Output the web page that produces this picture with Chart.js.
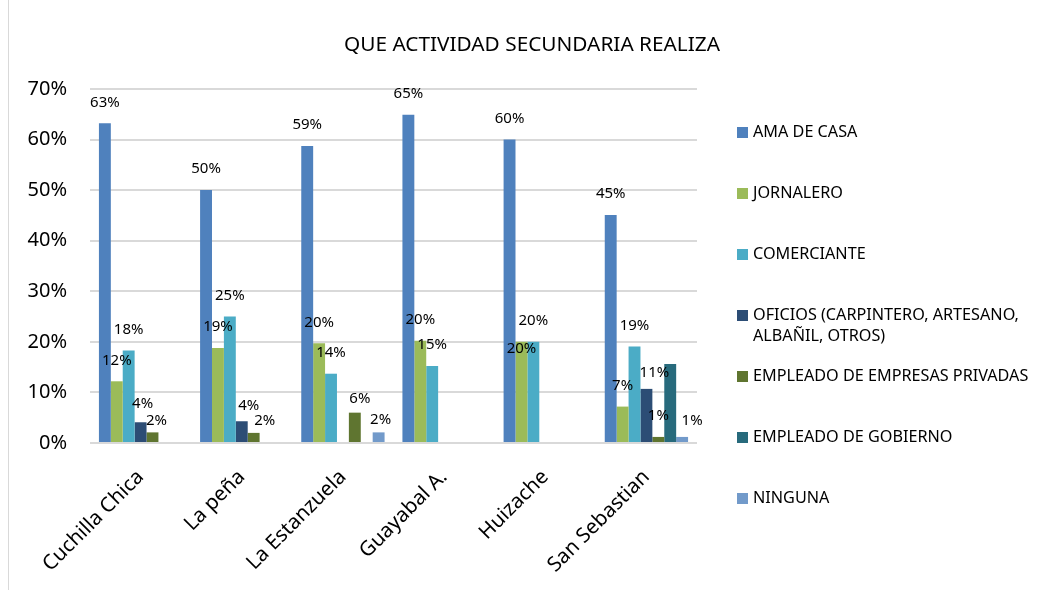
<!DOCTYPE html>
<html>
<head>
<meta charset="utf-8">
<script src="https://cdn.jsdelivr.net/npm/chart.js@4.4.1/dist/chart.umd.min.js"></script>
<style>
  html, body { margin: 0; padding: 0; background: #ffffff; }
  canvas { display: block; }
</style>
</head>
<body>
<canvas id="c" width="1043" height="590"></canvas>
<script>
// ---- data (percent) ----
const categories = ['Cuchilla Chica', 'La peña', 'La Estanzuela', 'Guayabal A.', 'Huizache', 'San Sebastian'];
const seriesNames = ['AMA DE CASA', 'JORNALERO', 'COMERCIANTE', ['OFICIOS (CARPINTERO, ARTESANO,', 'ALBAÑIL, OTROS)'], 'EMPLEADO DE EMPRESAS PRIVADAS', 'EMPLEADO DE GOBIERNO', 'NINGUNA'];
const amaDeCasa        = [63.2, 50.0, 58.7, 64.9, 60.0, 45.1];
const jornalero        = [12.2, 18.8, 19.7, 20.2, 20.0, 7.2];
const comerciante      = [18.3, 25.0, 13.7, 15.2, 20.0, 19.1];
const oficios          = [4.1, 4.3, null, null, null, 10.7];
const empleadoPrivado  = [2.1, 2.0, 6.0, null, null, 1.2];
const empleadoGobierno = [null, null, null, null, null, 15.6];
const ninguna          = [null, null, 2.1, null, null, 1.2];
const yTickValues      = [0, 10, 20, 30, 40, 50, 60, 70];

const seriesColors = ['#4F81BD', '#9BBB59', '#4BACC6', '#2C4D75', '#5F7530', '#276A7C', '#729ACA'];
const seriesValues = [amaDeCasa, jornalero, comerciante, oficios, empleadoPrivado, empleadoGobierno, ninguna];
const showLabels   = [true, true, true, true, true, false, true];

// manual nudges of individual value labels (dataset index, category index) -> [dx, dy]
const labelNudges = {
  '3,0': [2, 2],  '4,0': [4, 9],
  '3,1': [7, 5],  '4,1': [11, 9],
  '4,2': [5, 7],  '6,2': [2, 8],
  '1,4': [0, 28],
  '3,5': [8, 5],  '6,5': [10, 5]
};

const FONT = "'Noto Sans', 'DejaVu Sans', sans-serif";

const datasets = seriesValues.map((vals, i) => ({
  label: Array.isArray(seriesNames[i]) ? seriesNames[i].join(' ') : seriesNames[i],
  legendLines: Array.isArray(seriesNames[i]) ? seriesNames[i] : [seriesNames[i]],
  data: vals,
  backgroundColor: seriesColors[i],
  borderWidth: 0,
  showValueLabels: showLabels[i],
  categoryPercentage: 7 / 8.5,
  barPercentage: 1.0
}));

// border line on the left of the chart frame
const framePlugin = {
  id: 'frame',
  beforeDraw(chart) {
    const ctx = chart.ctx;
    ctx.save();
    ctx.fillStyle = '#ffffff';
    ctx.fillRect(0, 0, chart.width, chart.height);
    ctx.strokeStyle = '#d9d9d9';
    ctx.lineWidth = 1;
    ctx.beginPath();
    ctx.moveTo(8.5, 0);
    ctx.lineTo(8.5, chart.height);
    ctx.stroke();
    ctx.restore();
  }
};

// value labels above bars
const valueLabelPlugin = {
  id: 'valueLabels',
  afterDatasetsDraw(chart) {
    const ctx = chart.ctx;
    ctx.save();
    ctx.font = '15px ' + FONT;
    ctx.fillStyle = '#000000';
    ctx.textAlign = 'center';
    ctx.textBaseline = 'middle';
    chart.data.datasets.forEach((ds, di) => {
      if (!ds.showValueLabels) return;
      const meta = chart.getDatasetMeta(di);
      meta.data.forEach((el, i) => {
        const v = ds.data[i];
        if (v === null || v === undefined) return;
        const n = labelNudges[di + ',' + i] || [0, 0];
        ctx.fillText(Math.round(v) + '%', el.x + n[0], el.y - 21 + n[1]);
      });
    });
    ctx.restore();
  }
};

// legend drawn at right, evenly spaced like the original
const legendPlugin = {
  id: 'sideLegend',
  afterDraw(chart) {
    const ctx = chart.ctx;
    const boxX = 737, textX = 753, firstY = 132.5, pitch = 61, box = 11, lineGap = 21;
    ctx.save();
    ctx.font = '16.2px ' + FONT;
    ctx.textAlign = 'left';
    ctx.textBaseline = 'middle';
    chart.data.datasets.forEach((ds, i) => {
      const y = firstY + i * pitch;
      ctx.fillStyle = ds.backgroundColor;
      ctx.fillRect(boxX, Math.round(y - box / 2), box, box);
      ctx.fillStyle = '#000000';
      ds.legendLines.forEach((line, li) => {
        ctx.fillText(line, textX, y + li * lineGap);
      });
    });
    ctx.restore();
  }
};

new Chart(document.getElementById('c'), {
  type: 'bar',
  data: { labels: categories, datasets },
  plugins: [framePlugin, valueLabelPlugin, legendPlugin],
  options: {
    responsive: false,
    animation: false,
    devicePixelRatio: 1,
    layout: { padding: { left: 21, right: 0, top: 0, bottom: 0 } },
    plugins: {
      legend: { display: false },
      tooltip: { enabled: false },
      title: {
        display: true,
        text: 'QUE ACTIVIDAD SECUNDARIA REALIZA',
        color: '#000000',
        font: { family: FONT, size: 20.8, weight: 'normal' },
        padding: { top: 33, bottom: 31 }
      }
    },
    scales: {
      x: {
        grid: { display: false },
        border: { display: false },
        ticks: {
          color: '#000000',
          font: { family: FONT, size: 20.5 },
          minRotation: 45,
          maxRotation: 45,
          autoSkip: false,
          padding: 14
        },
        afterFit(scale) { scale.height = 147; }
      },
      y: {
        min: 0,
        max: 70,
        afterBuildTicks(scale) { scale.ticks = yTickValues.map(v => ({ value: v })); },
        grid: { color: '#d9d9d9', lineWidth: 2, drawTicks: false },
        border: { display: false },
        ticks: {
          color: '#000000',
          font: { family: FONT, size: 20 },
          padding: 23,
          callback: (v) => v + '%'
        },
        afterFit(scale) { scale.width = 69; }
      },
      legendSpace: {
        type: 'linear',
        position: 'right',
        display: true,
        grid: { display: false },
        border: { display: false },
        ticks: { display: false },
        afterFit(scale) { scale.width = 346; }
      }
    }
  }
});
</script>
</body>
</html>
